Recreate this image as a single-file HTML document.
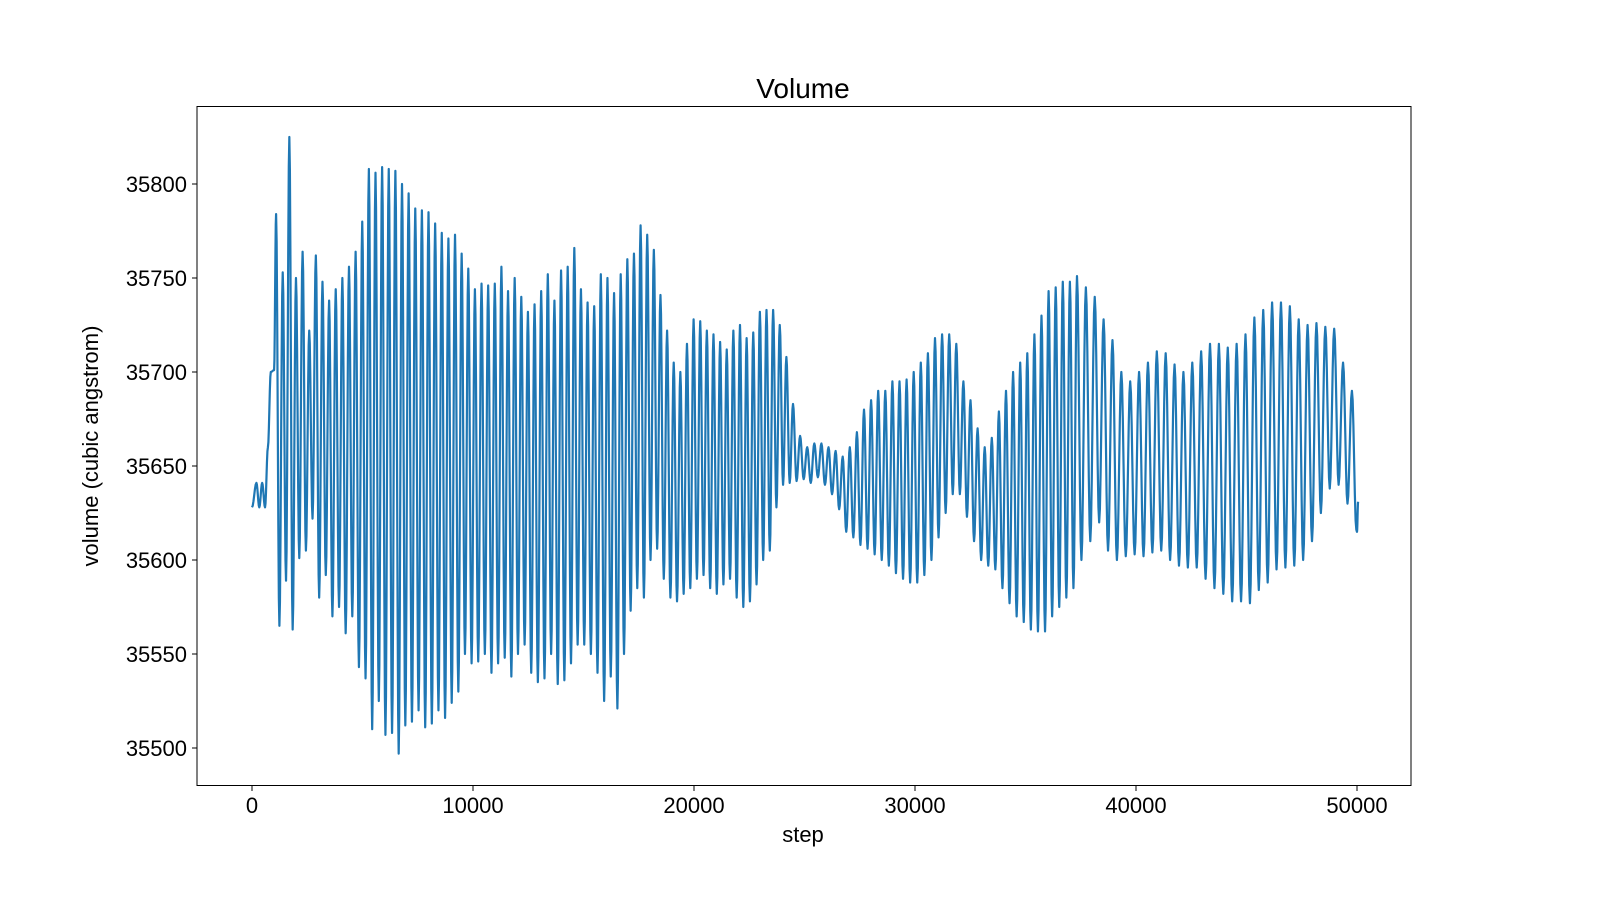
<!DOCTYPE html>
<html><head><meta charset="utf-8"><style>
body{margin:0;background:#fff;}
svg text{font-family:"Liberation Sans","DejaVu Sans",sans-serif;fill:#000;}
</style></head><body>
<svg id="chart" width="1600" height="900" viewBox="0 0 1600 900" xmlns="http://www.w3.org/2000/svg">
<rect width="1600" height="900" fill="#fff"/>
<text x="803" y="98" font-size="28" text-anchor="middle">Volume</text>
<g id="xticks"></g>
<g id="yticks"></g>
<path id="line" fill="none" stroke="#1f77b4" stroke-width="2.2" stroke-linejoin="round"/>
<rect x="197" y="106.5" width="1214" height="679" fill="none" stroke="#000" stroke-width="1"/>
<text x="803" y="842" font-size="22" text-anchor="middle">step</text>
<text x="98" y="446" font-size="22" text-anchor="middle" transform="rotate(-90 98 446)">volume (cubic angstrom)</text>
</svg>
<script>
const xTicks=[0,10000,20000,30000,40000,50000];
const yTicks=[35500,35550,35600,35650,35700,35750,35800];
const startSteps=[0,200,330,460,590,720,850,1000];
const startValues=[35628,35641,35628,35641,35628,35660,35700,35701];
const anchorCycle=[0,78,118,149];
const anchorStep=[1090,24480,37330,49770];
const peaks=[35784,35753,35825,35750,35764,35722,35762,35748,35738,35744,35750,35756,35764,35780,35808,35806,35809,35808,35807,35800,35795,35787,35786,35785,35779,35774,35771,35773,35763,35755,35744,35747,35746,35747,35756,35743,35750,35740,35732,35736,35743,35752,35738,35754,35756,35766,35744,35737,35735,35752,35750,35742,35752,35760,35763,35778,35773,35765,35741,35722,35705,35700,35715,35728,35727,35722,35720,35716,35712,35722,35725,35718,35721,35732,35733,35733,35725,35708,35683,35666,35660,35662,35662,35660,35658,35655,35660,35668,35680,35685,35690,35690,35695,35695,35696,35700,35705,35710,35718,35720,35720,35715,35695,35685,35670,35660,35665,35679,35690,35700,35705,35710,35720,35730,35743,35745,35748,35748,35751,35745,35740,35728,35717,35700,35695,35700,35705,35711,35710,35704,35700,35705,35711,35715,35715,35713,35715,35720,35729,35733,35737,35737,35735,35728,35725,35726,35724,35723,35705,35690,35680,35676,35689,35698];
const troughs=[35565,35589,35563,35601,35605,35622,35580,35592,35570,35575,35561,35570,35543,35537,35510,35525,35507,35508,35497,35512,35514,35520,35511,35513,35520,35516,35524,35530,35550,35545,35546,35550,35540,35545,35548,35538,35550,35555,35540,35535,35537,35550,35534,35536,35545,35555,35555,35550,35540,35525,35538,35521,35550,35573,35585,35580,35600,35606,35590,35580,35578,35582,35585,35590,35592,35585,35582,35587,35590,35580,35575,35578,35587,35600,35605,35628,35640,35641,35642,35643,35641,35644,35640,35635,35627,35615,35612,35608,35606,35603,35600,35597,35593,35590,35588,35588,35592,35600,35612,35625,35635,35635,35623,35610,35600,35597,35595,35585,35577,35570,35567,35563,35562,35562,35570,35575,35580,35585,35600,35610,35620,35605,35600,35602,35603,35602,35604,35605,35600,35597,35596,35596,35590,35585,35582,35578,35578,35577,35584,35588,35595,35596,35597,35600,35610,35625,35638,35640,35630,35616];
const endSteps=[50000,50050];
const endValues=[35615,35631];

const X0=252,X1=1357,Y0=748,Y1=184;
const xs=v=>X0+(v-0)*(X1-X0)/50000;
const ys=v=>Y0+(v-35500)*(Y1-Y0)/300;
const NS="http://www.w3.org/2000/svg";
const xg=document.getElementById('xticks'), yg=document.getElementById('yticks');
xTicks.forEach(t=>{
  const l=document.createElementNS(NS,'line');
  
  
  l.setAttribute('x1',xs(t));l.setAttribute('x2',xs(t));l.setAttribute('y1',786);l.setAttribute('y2',791);l.setAttribute('stroke','#000');
  xg.appendChild(l);
  const tx=document.createElementNS(NS,'text');
  
  
  tx.setAttribute('x',xs(t));tx.setAttribute('y',813);tx.setAttribute('font-size','22');tx.setAttribute('text-anchor','middle');
  tx.textContent=t;xg.appendChild(tx);
});
yTicks.forEach(t=>{
  const l=document.createElementNS(NS,'line');
  
  
  l.setAttribute('x1',192);l.setAttribute('x2',197);l.setAttribute('y1',ys(t));l.setAttribute('y2',ys(t));l.setAttribute('stroke','#000');
  yg.appendChild(l);
  const tx=document.createElementNS(NS,'text');
  
  
  tx.setAttribute('x',187);tx.setAttribute('y',ys(t)+8);tx.setAttribute('font-size','22');tx.setAttribute('text-anchor','end');
  tx.textContent=t;yg.appendChild(tx);
});
// map cycle index (fractional) to step via anchors
function cycleStep(c){
  for(let j=0;j<anchorCycle.length-1;j++){
    if(c<=anchorCycle[j+1]||j===anchorCycle.length-2){
      const a=anchorCycle[j],b=anchorCycle[j+1];
      return anchorStep[j]+(c-a)*(anchorStep[j+1]-anchorStep[j])/(b-a);
    }
  }
}
const pts=[];
startSteps.forEach((s,i)=>pts.push([s,startValues[i]]));
const n=Math.min(peaks.length,troughs.length);
for(let i=0;i<n;i++){
  pts.push([cycleStep(i),peaks[i]]);
  pts.push([cycleStep(i+0.5),troughs[i]]);
}
endSteps.forEach((s,i)=>pts.push([s,endValues[i]]));
let d='M'+xs(pts[0][0]).toFixed(2)+','+ys(pts[0][1]).toFixed(2);
for(let i=1;i<pts.length;i++){
  const [a,va]=pts[i-1],[b,vb]=pts[i];
  for(let k=1;k<=6;k++){
    const f=k/6, c=(1-Math.cos(Math.PI*f))/2;
    d+=' L'+xs(a+(b-a)*f).toFixed(2)+','+ys(va+(vb-va)*c).toFixed(2);
  }
}
document.getElementById('line').setAttribute('d',d);
</script>
</body></html>
